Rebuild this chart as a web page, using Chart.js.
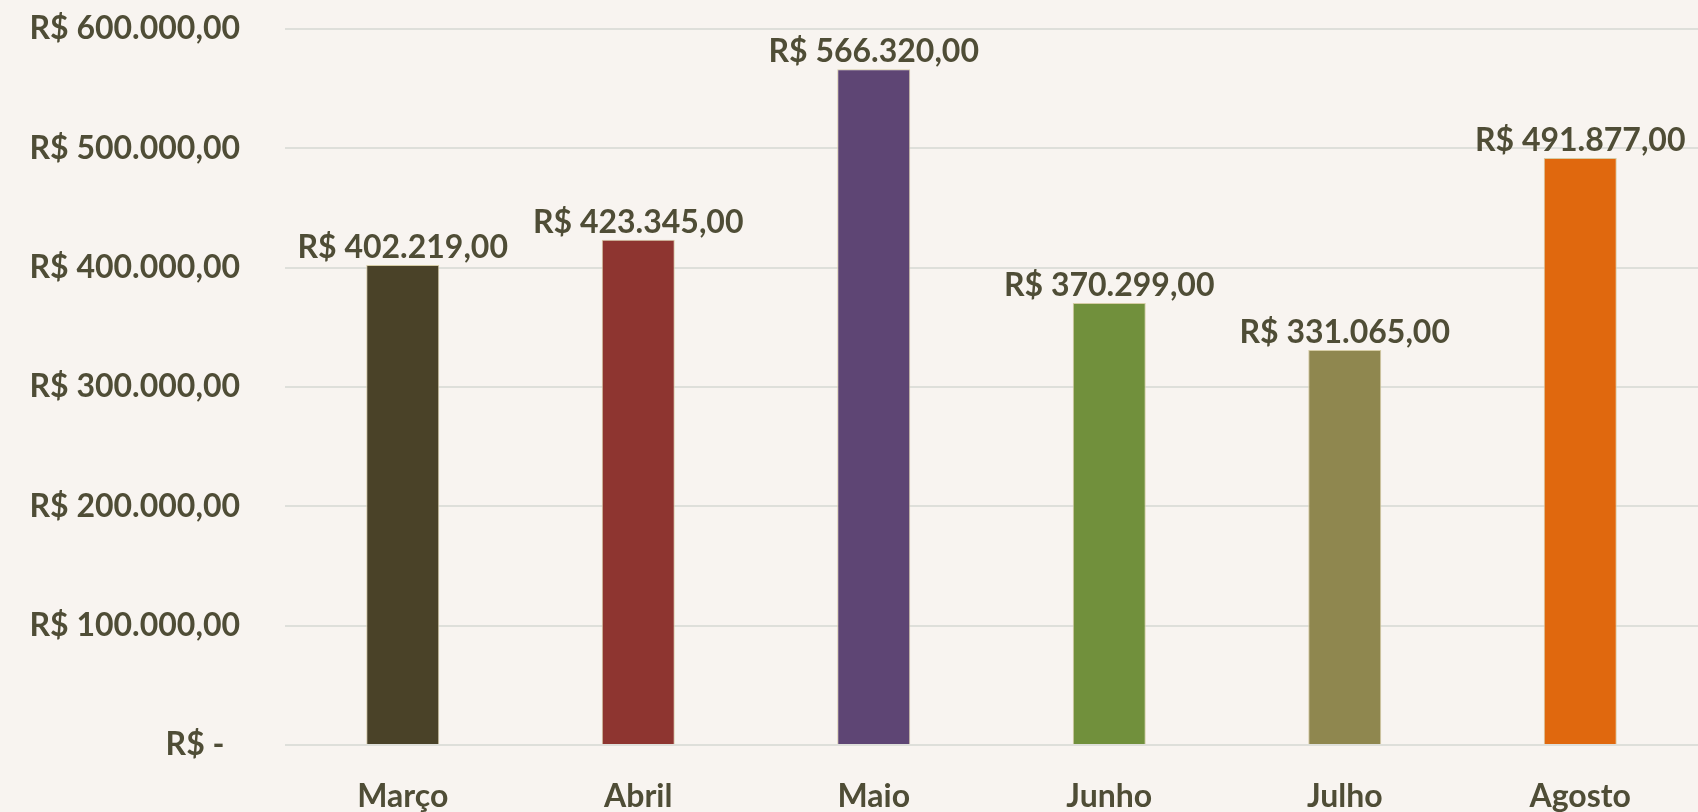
<!DOCTYPE html>
<html>
<head>
<meta charset="utf-8">
<script src="https://cdn.jsdelivr.net/npm/chart.js@4.4.1/dist/chart.umd.min.js"></script>
<style>
  html, body { margin: 0; padding: 0; background: #f8f4f0; }
  #wrap { width: 1698px; height: 812px; }
</style>
</head>
<body>
<div id="wrap"><canvas id="chart-vendas"></canvas></div>
<script>
const meses = ["Março", "Abril", "Maio", "Junho", "Julho", "Agosto"];
const valores = [402219, 423345, 566320, 370299, 331065, 491877];
const cores = ["#4a4228", "#8e3530", "#5e4574", "#71903c", "#8f874f", "#e0680e"];
const yTicks = [0, 100000, 200000, 300000, 400000, 500000, 600000];

const textColor = "#4f4d36";
const fontFamily = "Lato, 'Open Sans', sans-serif";
const fontSize = 32;

const fmt = (v) => {
  if (v === 0) return "R$ -  ";
  return "R$ " + v.toLocaleString("pt-BR", { minimumFractionDigits: 2, maximumFractionDigits: 2 });
};

// rotulos em cima das barras
const rotulos = {
  id: "rotulos",
  afterDatasetsDraw(chart) {
    const ctx = chart.ctx;
    const meta = chart.getDatasetMeta(0);
    ctx.save();
    ctx.font = "bold " + fontSize + "px " + fontFamily;
    ctx.fillStyle = textColor;
    ctx.textAlign = "center";
    ctx.textBaseline = "alphabetic";
    meta.data.forEach((bar, i) => {
      ctx.fillText(fmt(valores[i]), bar.x, bar.y - 7);
    });
    ctx.restore();
  }
};

const canvas = document.getElementById("chart-vendas");

const chart = new Chart(canvas, {
  type: "bar",
  data: {
    labels: meses,
    datasets: [{
      data: valores,
      backgroundColor: cores,
      borderColor: "#d6cda6",
      borderWidth: 1,
      barPercentage: 0.31,
      categoryPercentage: 1
    }]
  },
  options: {
    responsive: true,
    maintainAspectRatio: false,
    animation: false,
    layout: { padding: { top: 29, right: 0, bottom: 0, left: 0 } },
    plugins: {
      legend: { display: false },
      tooltip: { enabled: false }
    },
    scales: {
      x: {
        afterFit(scale) {
          scale.height = 67;
          scale.paddingLeft = 0;
          scale.paddingRight = 0;
        },
        grid: { display: false, drawTicks: false },
        border: { display: false },
        ticks: {
          color: textColor,
          font: { family: fontFamily, size: fontSize, weight: "bold" },
          padding: 32,
          maxRotation: 0
        }
      },
      y: {
        min: 0,
        max: 600000,
        afterFit(scale) {
          scale.width = 285;
          scale.paddingTop = 0;
          scale.paddingBottom = 0;
        },
        afterBuildTicks(scale) { scale.ticks = yTicks.map(v => ({ value: v })); },
        grid: { color: "#dedfda", lineWidth: 2, drawTicks: false },
        border: { display: false },
        ticks: {
          color: textColor,
          font: { family: fontFamily, size: fontSize, weight: "bold" },
          padding: 45,
          callback: (v) => fmt(v)
        }
      }
    }
  },
  plugins: [rotulos]
});
</script>
</body>
</html>
